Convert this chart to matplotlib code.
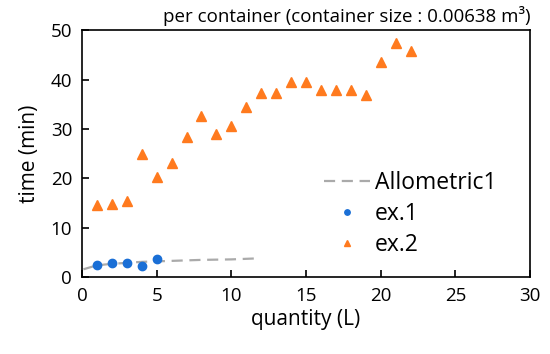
import matplotlib.pyplot as plt

plt.rcParams['font.family'] = ['Open Sans', 'DejaVu Sans']

# data
ex1_x = [1, 2, 3, 4, 5]
ex1_y = [2.4, 2.8, 2.9, 2.3, 3.7]

ex2_x = list(range(1, 23))
ex2_y = [14.6, 14.9, 15.4, 24.9, 20.2, 23.1, 28.3, 32.6, 28.9, 30.6, 34.5,
         37.2, 37.2, 39.5, 39.5, 37.9, 37.9, 37.9, 36.8, 43.6, 47.3, 45.8]

fit_x = [0.1, 1, 2, 3, 4, 5, 6, 8, 10, 11.7]
fit_y = [1.6, 2.4, 2.7, 2.9, 3.1, 3.2, 3.3, 3.5, 3.6, 3.8]

fig = plt.figure(figsize=(5.5, 3.54), dpi=100)
ax = fig.add_axes([0.149, 0.217, 0.815, 0.698])

ax.plot(fit_x, fit_y, ls=(0, (5, 3)), color='#aaaaaa', lw=1.6, label='Allometric1')
ax.plot(ex1_x, ex1_y, 'o', color='#1a6fd6', ms=6, label='ex.1')
ax.plot(ex2_x, ex2_y, '^', color='#ff7a1e', ms=7, label='ex.2')

ax.set_xlim(0, 30)
ax.set_ylim(0, 50)
ax.set_xticks([0, 5, 10, 15, 20, 25, 30])
ax.set_yticks([0, 10, 20, 30, 40, 50])
ax.tick_params(direction='in', length=5, width=1.2, labelsize=13.5, pad=7)
for s in ax.spines.values():
    s.set_linewidth(1.2)

ax.set_xlabel('quantity (L)', fontsize=15, labelpad=3)
ax.set_ylabel('time (min)', fontsize=15, labelpad=8)
ax.set_title('per container (container size : 0.00638 m³)', fontsize=13.5, loc='right', pad=6)

ax.legend(loc='lower right', bbox_to_anchor=(0.97, 0.0), frameon=False, fontsize=16.5,
          handlelength=2.0, handletextpad=0.2, labelspacing=0.3, markerscale=0.65)

fig.savefig('out.png', dpi=100)
